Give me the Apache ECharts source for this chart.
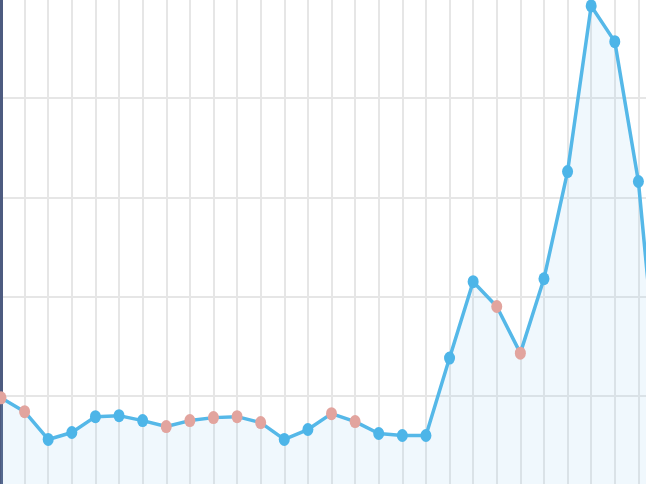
<!DOCTYPE html>
<html>
<head>
<meta charset="utf-8">
<script src="https://cdn.jsdelivr.net/npm/echarts@6/dist/echarts.min.js"></script>
<style>
html,body{margin:0;padding:0;background:#fff;}
#c{width:646px;height:484px;}
</style>
</head>
<body>
<div id="c"></div>
<script>
var categories = ['1','2','3','4','5','6','7','8','9','10','11','12','13','14','15','16','17','18','19','20','21','22','23','24','25','26','27','28','29'];
var values = [98,84,56,63,79,80,75,69,75,78,79,73,56,66,82,74,62,60,60,138,215,190,143,218,326,493,457,316,66];
var flagged = [1,1,0,0,0,0,0,1,1,1,1,1,0,0,1,1,0,0,0,0,0,1,1,0,0,0,0,0,0];

var BLUE = '#4db5e8';
var PINK = '#e2a49e';

var seriesData = values.map(function(v, i){
  return {value: v, itemStyle: {color: flagged[i] ? PINK : BLUE}};
});

var chart = echarts.init(document.getElementById('c'));
chart.setOption({
  animation: false,
  grid: {left: 1, top: -1, width: 661, height: 496, containLabel: false, outerBoundsMode: 'none'},
  xAxis: {
    type: 'category',
    data: categories,
    boundaryGap: false,
    axisLine: {show: false},
    axisTick: {show: false},
    axisLabel: {show: false},
    splitLine: {show: true, lineStyle: {color: '#e6e6e6', width: 2}}
  },
  yAxis: {
    type: 'value',
    min: 0, max: 500, interval: 100,
    axisLine: {show: true, lineStyle: {color: '#4d5b80', width: 3}},
    axisTick: {show: false},
    axisLabel: {show: false},
    splitLine: {show: true, lineStyle: {color: '#e6e6e6', width: 2}}
  },
  series: [{
    type: 'line',
    data: seriesData,
    symbol: 'circle',
    symbolSize: [11, 13],
    lineStyle: {color: '#55b8e8', width: 3.5},
    areaStyle: {color: 'rgba(140,205,240,0.19)'},
    z: 3
  }]
});
</script>
</body>
</html>
